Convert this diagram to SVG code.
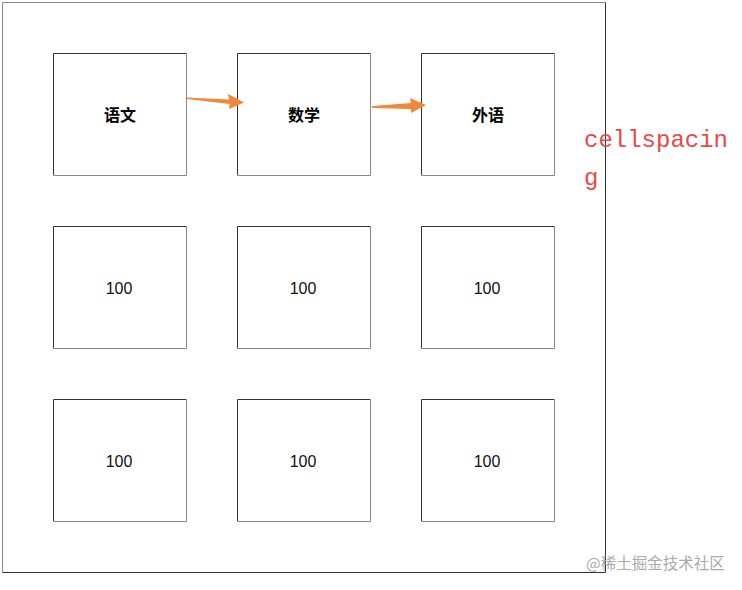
<svg xmlns="http://www.w3.org/2000/svg" width="742" height="590" viewBox="0 0 742 590">
<style>
.cell rect{fill:#fff;stroke:none}
.tl{stroke:#333;stroke-width:1;fill:none}
.br{stroke:#888;stroke-width:1;fill:none}
.h{font-family:"Noto Sans CJK SC","Liberation Sans",sans-serif;font-size:16px;font-weight:bold;fill:#000;text-anchor:middle}
.n{font-family:"Liberation Sans","Noto Sans CJK SC",sans-serif;font-size:16px;fill:#111;text-anchor:middle}
.arrow{fill:#F0883A}
.note{font-family:"Liberation Mono",monospace;font-size:24px;fill:#E84848}
.wm{font-family:"Noto Sans CJK SC",sans-serif;font-size:15.5px;fill:#aaa}
</style>
<rect width="742" height="590" fill="#fff"/>
<g id="table">
<path d="M2.5 572.5V2.5H605.5" stroke="#888" fill="none"/>
<path d="M605.5 2.5V572.5H2.5" stroke="#333" fill="none"/>
</g>
<defs>
<g id="cellbox">
<path class="tl" d="M0.5 122.5V0.5H133.5"/>
<path class="br" d="M133.5 0.5V122.5H0.5"/>
</g>
</defs>
<g id="c11" class="cell"><use href="#cellbox" x="53" y="53"/><text class="h" x="120" y="121">语文</text></g>
<g id="c12" class="cell"><use href="#cellbox" x="237" y="53"/><text class="h" x="304" y="121">数学</text></g>
<g id="c13" class="cell"><use href="#cellbox" x="421" y="53"/><text class="h" x="488" y="121">外语</text></g>
<g id="c21" class="cell"><use href="#cellbox" x="53" y="226"/><text class="n" x="119" y="294">100</text></g>
<g id="c22" class="cell"><use href="#cellbox" x="237" y="226"/><text class="n" x="303" y="294">100</text></g>
<g id="c23" class="cell"><use href="#cellbox" x="421" y="226"/><text class="n" x="487" y="294">100</text></g>
<g id="c31" class="cell"><use href="#cellbox" x="53" y="399"/><text class="n" x="119" y="467">100</text></g>
<g id="c32" class="cell"><use href="#cellbox" x="237" y="399"/><text class="n" x="303" y="467">100</text></g>
<g id="c33" class="cell"><use href="#cellbox" x="421" y="399"/><text class="n" x="487" y="467">100</text></g>
<g id="connectors">
<path class="arrow" d="M187 97.5L229 99.5L228 94L244 102.5L229 109L229.5 104L187 99Z"/>
<path class="arrow" d="M372 106L411 103L410 98L426 105L411 113L411 109L372 108Z"/>
</g>
<text class="note" x="584" y="147">cellspacin</text>
<text class="note" x="584" y="185">g</text>
<text class="wm" x="586" y="569">@稀土掘金技术社区</text>
</svg>
